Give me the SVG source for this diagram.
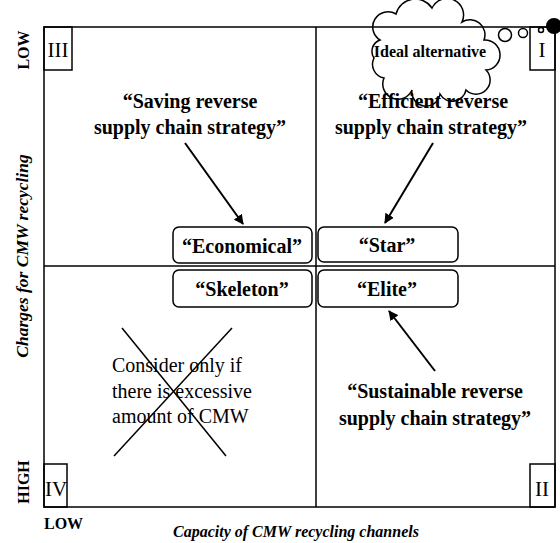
<svg xmlns="http://www.w3.org/2000/svg" width="560" height="543" viewBox="0 0 560 543">
<style>
.ln{stroke:#000;stroke-width:1.5;fill:none}
.box{fill:#fff;stroke:#000;stroke-width:1.5}
.b{font-family:"Liberation Serif",serif;font-weight:bold;font-size:20px;fill:#000}
.r{font-family:"Liberation Serif",serif;font-size:20px;fill:#000}
.ax{font-family:"Liberation Serif",serif;font-weight:bold;font-style:italic;font-size:16px;fill:#000}
.lh{font-family:"Liberation Serif",serif;font-weight:bold;font-size:16px;fill:#000}
.arr{stroke:#000;stroke-width:2;fill:none;marker-end:url(#ah)}
</style>
<defs>
<marker id="ah" viewBox="0 0 10 10" refX="9" refY="5" markerWidth="5" markerHeight="5" orient="auto" markerUnits="strokeWidth">
<path d="M0,0 L10,5 L0,10 Z" fill="#000"/>
</marker>
</defs>
<rect width="560" height="543" fill="#fff"/>
<g id="cloud">
<path class="box" d="M380 40 A14 14 0 0 1 396 14 A20 20 0 0 1 432 8 A16 16 0 0 1 462 22 A15 15 0 0 1 484 40 A14 14 0 0 1 486 70 A14 14 0 0 1 466 90 A14 14 0 0 1 440 94 A14 14 0 0 1 412 90 A14 14 0 0 1 384 78 A14 14 0 0 1 374 58 A12 12 0 0 1 380 40 Z"/>
<text class="b" x="430" y="57" text-anchor="middle" style="font-size:16px">Ideal alternative</text>
</g>
<g id="frame">
<rect class="ln" x="44" y="27" width="511" height="480"/>
<line class="ln" x1="316" y1="27" x2="316" y2="507"/>
<line class="ln" x1="44" y1="266" x2="555" y2="266"/>
</g>
<g id="bubbles">
<circle class="box" cx="505" cy="35" r="6.5"/>
<circle class="box" cx="523" cy="33" r="4.5"/>
<circle class="box" cx="541" cy="30" r="2.5"/>
<circle cx="554" cy="26" r="8" fill="#000"/>
</g>
<g id="q3"><rect class="ln" x="44" y="27" width="28" height="43"/><text class="r" x="58" y="57" text-anchor="middle" style="font-size:21px">III</text></g>
<g id="q1"><rect class="ln" x="530" y="27" width="25" height="43"/><text class="r" x="542" y="57" text-anchor="middle" style="font-size:21px">I</text></g>
<g id="q4"><rect class="ln" x="44" y="464" width="23" height="43"/><text class="r" x="56" y="496" text-anchor="middle" style="font-size:21px">IV</text></g>
<g id="q2"><rect class="ln" x="530" y="464" width="25" height="43"/><text class="r" x="542" y="496" text-anchor="middle" style="font-size:21px">II</text></g>
<g id="economical"><rect class="box" x="173" y="227" width="139" height="36" rx="6"/><text class="b" x="242" y="253" text-anchor="middle">“Economical”</text></g>
<g id="star"><rect class="box" x="318" y="227" width="140" height="35" rx="6"/><text class="b" x="387" y="252" text-anchor="middle">“Star”</text></g>
<g id="skeleton"><rect class="box" x="173" y="270" width="139" height="37" rx="6"/><text class="b" x="242" y="296" text-anchor="middle">“Skeleton”</text></g>
<g id="elite"><rect class="box" x="318" y="270" width="140" height="37" rx="6"/><text class="b" x="387" y="296" text-anchor="middle">“Elite”</text></g>
<g id="saving"><text class="b" x="190" y="108" text-anchor="middle">“Saving reverse</text><text class="b" x="190" y="134" text-anchor="middle">supply chain strategy”</text></g>
<g id="efficient"><text class="b" x="433" y="108" text-anchor="middle">“Efficient reverse</text><text class="b" x="431" y="134" text-anchor="middle">supply chain strategy”</text></g>
<g id="sustainable"><text class="b" x="435" y="398" text-anchor="middle">“Sustainable reverse</text><text class="b" x="435" y="425" text-anchor="middle">supply chain strategy”</text></g>
<g id="consider">
<line class="ln" x1="122" y1="328" x2="226" y2="456"/>
<line class="ln" x1="232" y1="328" x2="114" y2="456"/>
<text class="r" x="112" y="372">Consider only if</text>
<text class="r" x="112" y="398">there is excessive</text>
<text class="r" x="112" y="423">amount of CMW</text>
</g>
<g id="connectors">
<line class="arr" x1="185" y1="143" x2="243" y2="224"/>
<line class="arr" x1="433" y1="143" x2="385" y2="223"/>
<line class="arr" x1="435" y1="371" x2="389" y2="311"/>
</g>
<g id="axes">
<text class="lh" transform="translate(29,50) rotate(-90)" text-anchor="middle">LOW</text>
<text class="lh" transform="translate(29,482) rotate(-90)" text-anchor="middle">HIGH</text>
<text class="ax" transform="translate(28,256) rotate(-90)" text-anchor="middle" style="font-size:17.5px">Charges for CMW recycling</text>
<text class="lh" x="44" y="529">LOW</text>
<text class="ax" x="173" y="537">Capacity of CMW recycling channels</text>
</g>
</svg>
